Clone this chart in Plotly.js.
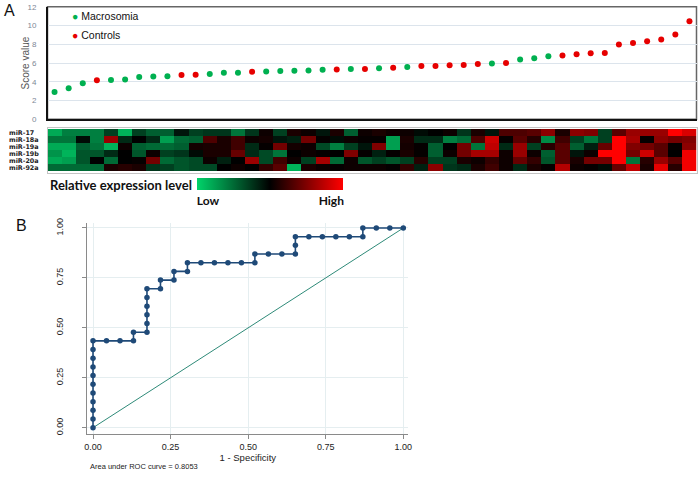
<!DOCTYPE html>
<html><head><meta charset="utf-8">
<script src="https://cdn.plot.ly/plotly-3.0.1.min.js"></script>
<style>html,body{margin:0;padding:0;background:#fff}#chart{width:700px;height:484px}</style>
</head><body><div id="chart"></div>
<script>
// ---- Panel A: score values (sorted) and group of each sample ----
const scoreValues = [2.9,3.3,3.85,4.15,4.2,4.25,4.5,4.57,4.6,4.72,4.76,4.83,4.96,4.96,5.07,5.1,5.14,5.18,5.21,5.28,5.32,5.36,5.36,5.43,5.5,5.57,5.68,5.68,5.75,5.79,5.89,5.96,6.0,6.36,6.5,6.71,6.79,6.93,7.04,7.07,7.96,8.14,8.32,8.5,9.04,10.45];
const sampleGroup = ['M','M','M','C','M','M','M','M','M','C','C','M','M','M','C','M','M','M','M','M','C','M','C','M','C','M','C','C','C','C','C','M','C','M','M','M','C','C','C','C','C','C','C','C','C','C'];
const groupNames = {M:'Macrosomia', C:'Controls'};
const scoreTitle = 'Score value';

// ---- Heatmap: relative expression (-1 low ... +1 high), one array per miRNA ----
const mirNames = ['miR-17','miR-18a','miR-19a','miR-19b','miR-20a','miR-92a'];
const mir17  = [-0.8,-0.6,-0.6,-0.6,-0.3,-0.85,-0.3,-0.45,-0.45,-0.1,-0.3,-0.25,-0.25,-0.55,-0.25,0.05,-0.3,0.1,0.05,-0.1,0.1,-0.45,0.05,0.1,0.05,0.05,-0.05,0.0,0.05,-0.25,0.1,-0.1,0.3,0.3,0.35,0.55,0.1,0.55,0.5,-0.3,0.35,0.6,0.6,0.6,1.0,0.85];
const mir18a = [-0.55,-0.55,-0.05,-0.6,0.6,-0.2,0.0,-0.2,-0.75,-0.5,-0.45,0.3,0.1,0.25,0.05,0.08,-0.1,-0.15,0.45,0.02,-0.05,0.05,0.02,0.02,-0.75,0.1,-0.2,-0.2,-0.6,-0.5,0.3,0.8,0.02,0.35,0.15,-0.65,0.25,-0.3,-0.55,-0.3,1.0,0.65,0.02,0.55,0.45,0.5];
const mir19a = [-0.8,-0.8,-0.45,-0.55,-0.85,0.05,-0.45,-0.5,-0.5,-0.45,0.08,0.1,0.1,0.25,-0.2,0.02,0.45,0.08,0.05,-0.35,-0.6,-0.3,-0.1,0.5,-0.75,0.08,0.02,-0.45,0.0,0.45,-0.55,0.75,-0.2,0.6,-0.3,0.15,0.35,-0.45,-0.15,0.4,1.0,0.5,0.45,0.35,0.02,0.55];
const mir19b = [-0.7,-0.85,-0.4,-0.4,-0.2,0.0,-0.4,0.05,-0.3,-0.25,-0.05,0.1,0.1,0.4,-0.2,-0.35,-0.55,0.0,0.05,0.02,0.0,0.5,0.02,-0.15,0.02,0.1,0.02,-0.45,0.05,0.45,0.65,0.65,0.05,0.6,0.05,-0.45,0.35,-0.1,0.05,1.0,1.0,0.45,0.8,0.35,0.0,0.95];
const mir20a = [-0.8,-0.75,-0.4,0.0,-0.5,0.0,0.02,0.45,-0.5,-0.4,-0.35,0.05,-0.15,0.0,0.6,-0.35,0.25,0.05,-0.3,0.65,-0.5,0.05,-0.4,-0.3,-0.4,-0.3,0.15,-0.3,-0.3,0.1,0.05,0.2,0.05,0.4,0.2,-0.4,0.35,0.1,0.45,0.45,1.0,-0.55,0.15,0.6,0.35,0.95];
const mir92a = [-0.5,-0.5,-0.5,-0.5,0.1,0.15,0.1,-0.25,-0.3,-0.4,-0.35,-0.35,0.0,0.05,0.0,0.2,0.35,-0.85,0.1,0.05,0.02,0.05,0.05,0.05,0.02,0.2,-0.15,0.55,-0.25,-0.2,0.1,0.25,0.05,-0.2,0.1,0.02,0.7,0.05,0.02,-0.05,0.4,0.75,0.1,0.9,0.15,0.95];
const scaleLabels = ['Low','High'];
const scaleTitle = 'Relative expression level';

// ---- Panel B: ROC curve ----
const rocFPR = [0,0,0,0,0,0,0,0,0,0,0,0.0435,0.0870,0.1304,0.1304,0.1739,0.1739,0.1739,0.1739,0.1739,0.1739,0.2174,0.2174,0.2609,0.2609,0.3043,0.3043,0.3478,0.3913,0.4348,0.4783,0.5217,0.5217,0.5652,0.6087,0.6522,0.6522,0.6522,0.6957,0.7391,0.7826,0.8261,0.8696,0.8696,0.9130,0.9565,1];
const rocTPR = [0,0.0435,0.0870,0.1304,0.1739,0.2174,0.2609,0.3043,0.3478,0.3913,0.4348,0.4348,0.4348,0.4348,0.4783,0.4783,0.5217,0.5652,0.6087,0.6522,0.6957,0.6957,0.7391,0.7391,0.7826,0.7826,0.8261,0.8261,0.8261,0.8261,0.8261,0.8261,0.8696,0.8696,0.8696,0.8696,0.9130,0.9565,0.9565,0.9565,0.9565,0.9565,0.9565,1,1,1,1];
const refX = [0,1], refY = [0,1];
const rocTicks = [0,0.25,0.5,0.75,1];
const rocTickText = ['0.00','0.25','0.50','0.75','1.00'];
const aucText = 'Area under ROC curve = 0.8053';

// ---- build ----
const W = 700, H = 484;
const px = v => v / W, py = v => 1 - v / H;
const sampleIndex = scoreValues.map((v, i) => i);
function groupTrace(code, color) {
  const xs = [], ys = [];
  sampleGroup.forEach((g, i) => { if (g === code) { xs.push(i); ys.push(scoreValues[i]); } });
  return {type:'scatter', mode:'markers', name:groupNames[code], x:xs, y:ys, xaxis:'x', yaxis:'y',
          marker:{color:color, size:6}, hoverinfo:'y'};
}
const GREEN = '#00b050', RED = '#e60000';
const traces = [
  groupTrace('M', GREEN),
  groupTrace('C', RED),
  {type:'heatmap', x:sampleIndex, y:mirNames, z:[mir17,mir18a,mir19a,mir19b,mir20a,mir92a],
   xaxis:'x2', yaxis:'y2', zmin:-1, zmax:1,
   colorscale:[[0,'#00d46a'],[0.5,'#000000'],[1,'#ff0000']],
   showscale:true,
   colorbar:{orientation:'h', x:px(197), xanchor:'left', xref:'paper', len:146.3/W, lenmode:'fraction',
             thickness:12, thicknessmode:'pixels', y:py(178.3), yanchor:'top', yref:'paper',
             xpad:0, ypad:0, outlinewidth:0, ticks:'', tickvals:[-0.85,0.84],
             ticktext:scaleLabels.map(s => '<b>' + s + '</b>'),
             tickfont:{family:'Lato, Liberation Sans, sans-serif', size:12, color:'#111'}}},
  {type:'scatter', mode:'lines', x:refX, y:refY, xaxis:'x3', yaxis:'y3',
   line:{color:'#2e8a78', width:1}, hoverinfo:'skip'},
  {type:'scatter', mode:'lines+markers', x:rocFPR, y:rocTPR, xaxis:'x3', yaxis:'y3',
   line:{color:'#1f4a78', width:1.6}, marker:{color:'#1f4a78', size:5.5}}
];

const xDom = [px(47.5), px(696.5)];
const layout = {
  width:W, height:H, margin:{l:0,r:0,t:0,b:0,pad:0}, paper_bgcolor:'#ffffff', plot_bgcolor:'rgba(0,0,0,0)',
  showlegend:false,
  font:{family:'Liberation Sans, Arial, sans-serif', color:'#222'},
  xaxis:{domain:xDom, range:[-0.5,45.5], anchor:'y', showticklabels:false, ticks:'', showgrid:false,
         zeroline:false, showline:true, linecolor:'#111', linewidth:2},
  yaxis:{domain:[py(119.3), py(6.7)], range:[0,12], anchor:'x', tickvals:[0,2,4,6,8,10,12],
         showgrid:true, gridcolor:'#dce4ec', gridwidth:1, zeroline:false, showline:true,
         linecolor:'#111', linewidth:1.5, ticks:'', ticklabelstandoff:8,
         tickfont:{size:8, color:'#7d8896'}},
  xaxis2:{domain:xDom, range:[-0.5,45.5], anchor:'y2', showticklabels:false, ticks:'', showgrid:false,
          zeroline:false, showline:true, mirror:true, linecolor:'#c4c4c4', linewidth:1},
  yaxis2:{domain:[py(172.5), py(127.5)], anchor:'x2', autorange:'reversed', showticklabels:false,
          ticks:'', showgrid:false, zeroline:false, showline:true, mirror:true, linecolor:'#c4c4c4', linewidth:1},
  xaxis3:{domain:[px(87.3), px(408.3)], range:[-0.0184,1.0161], anchor:'y3',
          tickvals:rocTicks, ticktext:rocTickText, ticks:'outside', ticklen:4, tickcolor:'#8a8a8a',
          showline:true, linecolor:'#8a8a8a', linewidth:1, showgrid:true, gridcolor:'#e5eef0',
          zeroline:false, tickfont:{size:9, color:'#222'},
          title:{text:'1 - Specificity', font:{size:9.5, color:'#222'}, standoff:2}},
  yaxis3:{domain:[py(434.3), py(223.3)], range:[-0.033,1.0235], anchor:'x3',
          tickvals:rocTicks, ticktext:rocTickText, tickangle:-90, ticks:'outside', ticklen:4,
          tickcolor:'#8a8a8a', ticklabelstandoff:16,
          showline:true, linecolor:'#8a8a8a', linewidth:1, showgrid:true, gridcolor:'#e5eef0',
          zeroline:false, tickfont:{size:9, color:'#222'}},
  shapes:[
    {type:'rect', xref:'x domain', yref:'y domain', x0:0, x1:1, y0:0, y1:1,
     line:{color:'#666', width:1.5}, layer:'below'}
  ],
  annotations:[]
};
const ann = layout.annotations;
ann.push({text:scoreTitle, xref:'paper', yref:'paper', x:px(24.5), y:py(63), textangle:-90, showarrow:false,
          xanchor:'center', yanchor:'middle', font:{size:10, color:'#555'}});
ann.push({text:'A', xref:'paper', yref:'paper', x:px(9.5), y:py(10.5), showarrow:false,
          font:{size:16, color:'#111'}, xanchor:'center', yanchor:'middle'});
ann.push({text:'B', xref:'paper', yref:'paper', x:px(21.5), y:py(225.5), showarrow:false,
          font:{size:16, color:'#111'}, xanchor:'center', yanchor:'middle'});
[['M', GREEN, 16.5], ['C', RED, 35]].forEach(([code, col, yy]) => {
  ann.push({text:'<span style="color:' + col + '">●</span> ' + groupNames[code], xref:'paper', yref:'paper',
            x:px(70), y:py(yy), xanchor:'left', yanchor:'middle', showarrow:false,
            font:{size:10.5, color:'#111'}});
});
mirNames.forEach(n => ann.push({text:'<b>' + n + '</b>', xref:'paper', yref:'y2', x:px(8), y:n,
  xanchor:'left', yanchor:'middle', showarrow:false, borderpad:0,
  font:{family:'DejaVu Sans, sans-serif', size:6.4, color:'#222'}}));
ann.push({text:'<b>' + scaleTitle + '</b>', xref:'paper', yref:'paper', x:px(48), y:py(184.5),
          xanchor:'left', yanchor:'middle', showarrow:false,
          font:{family:'Lato, Liberation Sans, sans-serif', size:13, color:'#111'}});
ann.push({text:aucText, xref:'paper', yref:'paper', x:px(88), y:py(466.7), xanchor:'left', yanchor:'middle',
          showarrow:false, font:{size:7.5, color:'#222'}});

Plotly.newPlot('chart', traces, layout, {displayModeBar:false, staticPlot:true});
</script></body></html>
